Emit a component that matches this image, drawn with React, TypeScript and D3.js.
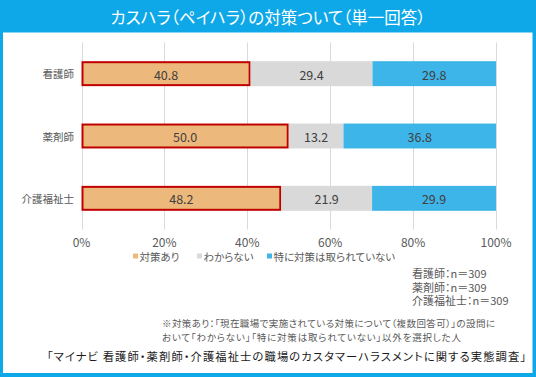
import React from "react";
import * as d3 from "d3";

const categories = ["看護師", "薬剤師", "介護福祉士"];
const seriesNames = ["対策あり", "わからない", "特に対策は取られていない"];
const valAri = [40.8, 50.0, 48.2];
const valWakaranai = [29.4, 13.2, 21.9];
const valNashi = [29.8, 36.8, 29.9];
const seriesColors = ["#EDB87B", "#D9D9D9", "#3EB5E8"];
const tickValues = [0, 20, 40, 60, 80, 100];
const nLabels = ["看護師：n＝309", "薬剤師：n＝309", "介護福祉士：n＝309"];
const title = "カスハラ（ペイハラ）の対策ついて（単一回答）";
const note1 = "※対策あり：「現在職場で実施されている対策について（複数回答可）」の設問に";
const note2 = "おいて「わからない」「特に対策は取られていない」以外を選択した人";
const source = "「マイナビ 看護師・薬剤師・介護福祉士の職場のカスタマーハラスメントに関する実態調査」";

const W = 536;
const H = 377;
const FONT = "'Noto Sans CJK JP', 'Noto Sans', sans-serif";
const PALT = { fontFeatureSettings: "'palt'" } as React.CSSProperties;

export default function App() {
  const x = d3.scaleLinear().domain([0, 100]).range([81.5, 496]);
  const y = d3.scaleBand<string>().domain(categories).range([42.5, 229.5]).paddingInner(0.6).paddingOuter(0.3);
  const data = categories.map((c, i) => ({ cat: c, 対策あり: valAri[i], わからない: valWakaranai[i], 特に対策は取られていない: valNashi[i] }));
  const stack = d3.stack<any>().keys(seriesNames)(data);
  const bw = y.bandwidth();
  const textCol = "#595959";

  return (
    <svg width={W} height={H} style={{ position: "fixed", left: 0, top: 0 }} fontFamily={FONT}>
      <rect x={0} y={0} width={W} height={H} fill="#0EA8E8" />
      <rect x={3} y={32.5} width={529.5} height={340.5} fill="#FFFFFF" />
      <text x={W / 2} y={17} fill="#FFFFFF" fontSize={16.5} textAnchor="middle" dominantBaseline="central" style={PALT}>{title}</text>

      {tickValues.map((t) => (
        <g key={t}>
          <line x1={Math.round(x(t)) + 0.5} x2={Math.round(x(t)) + 0.5} y1={42.5} y2={229.5} stroke="#D9D9D9" strokeWidth={1} />
          <text x={x(t)} y={241} fontSize={12} fill={textCol} textAnchor="middle" dominantBaseline="central">{t}%</text>
        </g>
      ))}

      {stack.map((s, si) => (
        <g key={si}>
          {s.map((d, i) => {
            const cat = categories[i];
            const x0 = x(d[0]);
            const x1 = x(d[1]);
            const yy = y(cat)!;
            const isFirst = si === 0;
            return (
              <g key={i}>
                {isFirst ? (
                  <rect x={x0 + 1} y={yy + 1} width={x1 - x0 - 2} height={bw - 2} fill={seriesColors[si]} stroke="#C00000" strokeWidth={2} />
                ) : (
                  <rect x={x0} y={yy} width={x1 - x0} height={bw} fill={seriesColors[si]} />
                )}
                <text x={(x0 + x1) / 2} y={yy + bw / 2 + 0.5} fontSize={12.5} fill="#404040" textAnchor="middle" dominantBaseline="central">
                  {(d[1] - d[0]).toFixed(1)}
                </text>
              </g>
            );
          })}
        </g>
      ))}

      {categories.map((c) => (
        <text key={c} x={74} y={y(c)! + bw / 2} fontSize={10.5} fill={textCol} textAnchor="end" dominantBaseline="central">{c}</text>
      ))}

      {(() => {
        const legX = [133, 197, 267];
        return seriesNames.map((n, i) => (
          <g key={n}>
            <rect x={legX[i]} y={253.5} width={5} height={5} fill={seriesColors[i]} />
            <text x={legX[i] + 6.5} y={256} fontSize={10.5} fill={textCol} dominantBaseline="central" style={PALT}>{n}</text>
          </g>
        ));
      })()}

      {nLabels.map((t, i) => (
        <text key={t} x={412} y={273 + i * 13.5} fontSize={11} fill={textCol} dominantBaseline="central" style={PALT}>{t}</text>
      ))}

      <text x={162} y={323} fontSize={9.5} fill={textCol} dominantBaseline="central" style={PALT} textLength={333} lengthAdjust="spacing">{note1}</text>
      <text x={162} y={337} fontSize={9.5} fill={textCol} dominantBaseline="central" style={PALT} textLength={299} lengthAdjust="spacing">{note2}</text>
      <text x={47} y={356} fontSize={11.3} fill="#1a1a1a" dominantBaseline="central" style={PALT} textLength={479} lengthAdjust="spacing">{source}</text>
    </svg>
  );
}
